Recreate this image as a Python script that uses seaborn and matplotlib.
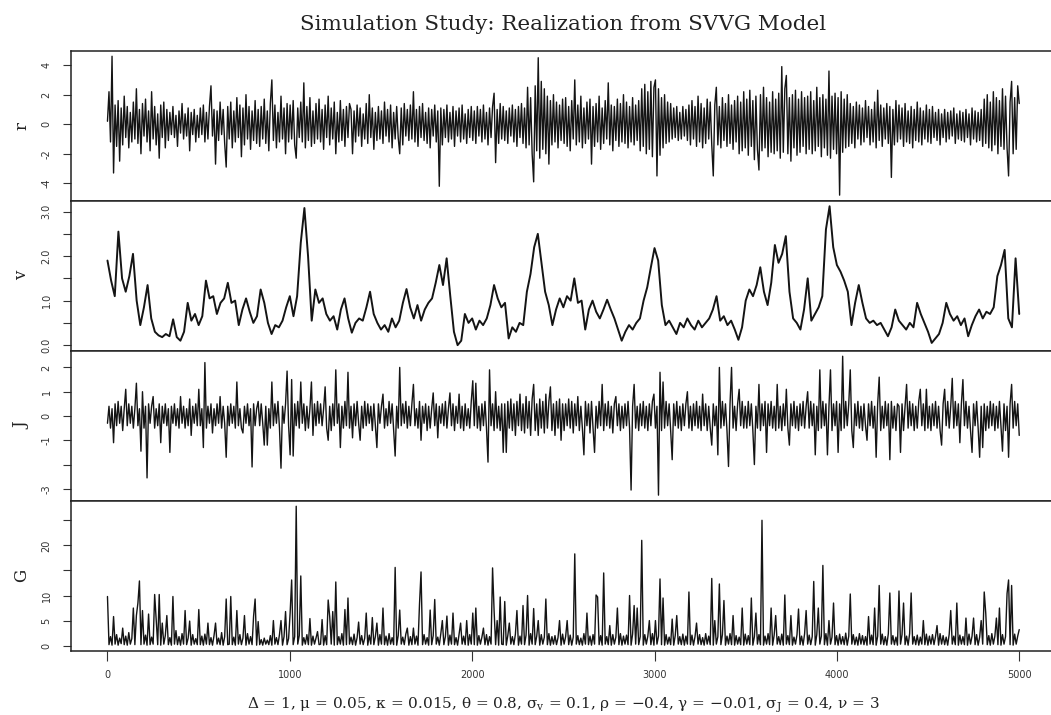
import numpy as np
import pandas as pd
import seaborn as sns
import matplotlib.pyplot as plt

# values (time index runs 0..5000 in each panel)
r_vals = [
    0.2, 2.2, -1.2, 4.6, -3.3, 1.3, -1.5, 1.6, -2.5, 1.1, -1.4, 1.9, -0.9, 1.2, -1.6, 0.8, -1.2, 1.5, -1.0, 2.4,
    -1.3, 1.0, -2.0, 1.4, -0.8, 1.7, -1.2, 0.9, -1.8, 2.2, -1.0, 1.2, -1.4, 0.7, -2.3, 1.3, -0.9, 1.5, -1.6, 1.0,
    -1.1, 0.8, -0.7, 1.2, -0.9, 0.6, -1.5, 0.9, -0.6, 1.4, -1.0, 0.7, -0.8, 1.1, -1.8, 0.8, -0.7, 1.0, -1.2, 0.6,
    -0.9, 1.1, -0.7, 1.3, -1.2, 0.8, -1.0, 1.2, 2.6, -0.8, 1.0, -2.7, 0.9, -1.1, 1.5, -0.7, 1.0, -1.3, -2.9, 1.2,
    -1.0, 1.5, -1.6, 0.9, -1.2, 1.8, -0.9, 1.3, -2.2, 1.1, -1.4, 2.0, -1.0, 1.2, -1.7, 0.9, -1.1, 1.6, -1.3, 1.0,
    -1.5, 1.2, -1.0, 1.7, -1.3, 0.9, -1.8, 1.4, 3.0, -1.1, 1.3, -1.6, 0.8, -1.2, 1.9, -1.0, 1.1, -2.0, 1.4, -1.2,
    1.3, -1.0, 1.6, -1.4, -2.3, 1.1, -0.9, 1.5, -1.2, 2.8, -1.6, 1.2, -1.1, 1.8, -1.5, 0.9, -1.3, 1.4, -1.0, 1.7,
    -1.2, 1.0, -1.7, 1.3, -0.9, 1.9, -1.4, 1.1, -1.0, 1.5, -2.0, 0.8, -1.2, 1.6, -1.1, 1.0, -1.5, 1.2, -0.9, 1.4,
    1.0, -2.0, 0.9, -1.2, 1.3, -0.8, 1.1, -1.5, 0.7, -1.0, 1.4, -1.3, 2.0, -0.9, 1.1, -1.7, 0.8, -1.1, 1.2, -1.0,
    0.9, -1.3, 1.5, -0.8, 1.0, -1.2, 1.3, -1.6, 0.8, -1.0, 1.2, -0.9, -2.0, 1.1, -1.4, 1.4, -0.8, 1.0, -1.1, 1.3,
    -1.0, 2.2, -1.2, 1.0, -1.5, 1.2, -0.9, 1.4, -1.1, 0.8, -1.3, 1.1, -1.6, 1.0, -0.8, 1.3, -1.2, 0.9, -4.2, 1.1,
    -1.4, 1.0, -0.9, 1.3, -1.2, 0.8, -1.0, 1.2, -1.5, 0.9, -0.8, 1.1, -1.2, 1.3, -1.0, 0.7, -1.3, 1.0, -0.9, 1.2,
    -1.1, 0.9, -1.3, 1.2, -0.8, 1.0, -1.2, 1.3, -1.0, 0.8, -1.4, 1.1, -0.9, 1.2, 2.1, -2.6, 1.0, -1.3, 1.4, -1.0,
    1.2, -1.1, 0.9, -1.3, 1.1, -0.8, 1.3, -1.2, 1.0, -1.5, 1.2, -0.9, 1.4, -1.3, 1.1, -1.6, 2.5, -1.4, 1.8, -2.0,
    -3.9, 2.6, -1.8, 4.5, -2.3, 2.9, -1.7, 2.4, -2.0, 1.9, -2.7, 1.6, -1.4, 2.0, -1.2, 1.5, -1.6, 1.3, -1.1, 1.7,
    -1.3, 1.8, -1.5, 1.2, -1.8, 1.6, -1.0, 3.0, -1.4, 1.3, -1.2, 1.9, -1.6, 1.1, -1.3, 1.5, -1.0, 1.7, -2.7, 1.2,
    -1.5, 1.4, -1.2, 1.9, -1.7, 1.1, -1.3, 1.6, -1.0, 2.8, -1.4, 1.3, -1.8, 1.2, -1.1, 1.7, -1.5, 1.4, -1.2, 2.0,
    -1.3, 1.5, -1.6, 1.2, -1.2, 1.8, -1.4, 1.3, -1.1, 1.6, -1.8, 2.4, -1.5, 2.7, -2.0, 2.2, -1.7, 2.9, -2.2, 2.5,
    3.0, -3.5, 2.4, -2.1, 1.8, -1.6, 2.0, -1.3, 1.5, -1.2, 1.4, -1.0, 1.1, -0.9, 1.2, -1.1, 0.8, -1.0, 1.2, -0.8,
    1.0, -1.1, 1.3, -1.4, 1.6, -1.0, 1.2, -1.5, 1.9, -1.2, 1.4, -1.6, 1.1, -1.3, 1.7, -1.0, 1.5, -1.4, -3.5, 1.3,
    2.5, -1.4, 1.2, -1.6, 1.8, -1.1, 1.4, -1.5, 2.0, -1.3, 1.3, -1.7, 1.6, -1.2, 1.9, -2.0, 1.5, -1.8, 2.2, -1.6,
    1.7, -2.1, 2.3, -1.5, 1.6, -2.4, 1.9, -1.7, -3.1, 2.0, -1.8, 2.5, -1.6, 1.8, -2.2, 1.5, -1.9, 2.2, -2.0, 1.7,
    -1.8, 2.1, -2.3, 3.9, -1.9, 2.4, 3.3, -2.0, 1.8, -2.5, 2.0, -1.6, 2.3, -2.1, 1.7, -1.9, 2.2, -1.5, 1.8, -2.0,
    1.9, -1.7, 2.2, -2.0, 1.6, -1.8, 2.5, -1.5, 1.8, -2.2, 2.0, -1.6, 1.7, -2.1, 3.6, -2.3, 1.9, -1.7, 2.1, -2.0,
    1.8, -4.8, 2.2, -1.9, 1.7, -1.6, 2.0, -1.5, 1.4, -1.3, 1.2, -1.6, 1.5, -1.0, 1.3, -1.4, 1.1, -1.2, 1.6, -0.9,
    1.2, -1.4, 1.0, -1.2, 1.5, -1.6, 2.3, -1.1, 1.3, -1.5, 1.1, -1.0, 1.4, -1.3, 1.2, -3.6, 1.0, -1.4, 1.6, -1.2,
    1.3, -1.0, 1.1, -1.5, 1.4, -1.2, 0.9, -1.3, 1.2, -1.6, 1.0, -1.1, 1.5, -1.2, 1.1, -1.4, 0.9, -1.0, 1.3, -1.2,
    1.0, -1.3, 1.2, -0.9, 0.8, -1.1, 1.0, -1.4, 0.7, -0.9, 1.0, -1.2, 0.8, -1.0, 0.9, -0.8, 1.1, -1.3, 0.7, -1.0,
    0.9, -1.1, 0.8, -1.2, 1.0, -0.9, 0.7, -1.4, 1.1, -1.0, 0.9, -1.2, 0.8, -1.1, 1.0, -1.5, 1.7, -1.3, 2.0, -1.6,
    1.5, -1.8, 2.2, -1.4, 1.8, -2.0, 1.6, -1.5, 2.4, -1.7, 1.9, -1.6, -3.5, 1.5, 2.9, -2.0, 1.8, -1.7, 2.6, 1.4,
]

v_vals = [
    1.90, 1.45, 1.10, 2.55, 1.50, 1.20, 1.55, 2.05, 1.00, 0.45,
    0.85, 1.35, 0.60, 0.30, 0.22, 0.18, 0.25, 0.20, 0.58, 0.18,
    0.10, 0.30, 0.95, 0.55, 0.70, 0.45, 0.65, 1.45, 1.05, 1.10,
    0.70, 0.95, 1.05, 1.40, 0.95, 1.00, 0.45, 0.80, 1.05, 0.75,
    0.50, 0.65, 1.25, 0.95, 0.50, 0.25, 0.45, 0.40, 0.55, 0.85,
    1.10, 0.65, 1.10, 2.30, 3.08, 2.00, 0.55, 1.25, 0.95, 1.05,
    0.70, 0.55, 0.65, 0.35, 0.80, 1.05, 0.60, 0.28, 0.50, 0.60,
    0.55, 0.85, 1.20, 0.70, 0.50, 0.35, 0.45, 0.30, 0.60, 0.40,
    0.55, 0.95, 1.26, 0.85, 0.60, 0.90, 0.55, 0.80, 0.95, 1.05,
    1.40, 1.80, 1.35, 1.95, 1.10, 0.30, 0.00, 0.10, 0.70, 0.50,
    0.60, 0.35, 0.55, 0.45, 0.60, 0.90, 1.35, 1.05, 0.85, 0.95,
    0.15, 0.40, 0.30, 0.50, 0.45, 1.20, 1.60, 2.20, 2.50, 1.85,
    1.20, 0.90, 0.45, 0.80, 1.05, 0.85, 1.10, 1.00, 1.50, 0.95,
    1.00, 0.35, 0.80, 1.00, 0.75, 0.60, 0.80, 1.02, 0.80, 0.60,
    0.35, 0.10, 0.30, 0.45, 0.35, 0.50, 0.60, 1.00, 1.30, 1.75,
    2.18, 1.90, 0.90, 0.45, 0.55, 0.40, 0.25, 0.50, 0.40, 0.60,
    0.45, 0.35, 0.55, 0.40, 0.50, 0.60, 0.80, 1.10, 0.55, 0.65,
    0.45, 0.55, 0.35, 0.12, 0.40, 1.00, 1.25, 1.10, 1.35, 1.75,
    1.20, 0.90, 1.40, 2.25, 1.85, 2.05, 2.45, 1.20, 0.60, 0.50,
    0.35, 0.80, 1.50, 0.55, 0.70, 0.85, 1.10, 2.60, 3.12, 2.20,
    1.80, 1.65, 1.45, 1.20, 0.45, 0.95, 1.35, 0.95, 0.60, 0.50,
    0.55, 0.45, 0.50, 0.35, 0.20, 0.40, 0.80, 0.55, 0.45, 0.35,
    0.50, 0.40, 0.95, 0.70, 0.50, 0.30, 0.05, 0.15, 0.25, 0.50,
    0.95, 0.70, 0.55, 0.65, 0.45, 0.60, 0.20, 0.45, 0.65, 0.80,
    0.60, 0.75, 0.70, 0.85, 1.55, 1.80, 2.14, 0.60, 0.40, 1.95,
    0.70,
]

j_vals = [
    -0.3, 0.4, -0.5, 0.3, -1.1, 0.5, -0.4, 0.6, -0.3, 0.4, -0.6, 0.3, 1.1, -0.4, 0.5, -0.3, 0.4, -0.5, 0.3, 1.35,
    -0.4, 0.3, -1.45, 1.0, -0.5, 0.4, -2.55, 0.5, -0.3, 0.4, 0.8, -0.5, 0.3, -0.4, 0.5, -1.1, 0.4, -0.3, 0.5, -0.4,
    0.3, -1.5, 0.4, -0.3, 0.5, -0.4, 0.3, -0.5, 0.8, -0.3, 0.4, -0.5, 0.3, -0.4, 0.7, -0.8, 0.4, -0.3, 0.5, -0.4,
    1.1, -0.4, 0.3, -1.3, 2.2, -0.5, 0.4, -0.3, 0.5, -0.7, 0.3, -0.4, 0.5, -0.3, 0.8, -0.5, 0.4, -0.3, -1.7, 0.4,
    -0.4, 0.5, -0.3, 0.4, -0.5, 1.4, -0.4, 0.3, -0.5, -0.7, 0.4, -0.3, 0.5, -0.4, 0.3, -2.1, 0.5, -0.4, 0.3, 0.6,
    -0.4, 0.5, -0.3, -1.2, 0.4, -1.2, 0.3, -0.5, 1.4, -0.4, 0.5, -0.3, 0.6, -0.5, -2.15, 0.4, -0.3, 0.5, 1.85, -0.4,
    -1.6, 1.5, -1.65, 0.5, -0.4, 0.6, -0.5, 1.4, -0.3, 0.5, -0.6, 0.4, -0.5, 0.3, 1.4, -0.8, 0.5, -0.4, 0.6, -0.3,
    0.5, -0.4, 0.3, 1.2, -0.5, -1.0, 0.4, -0.6, 0.5, -0.4, 1.9, -0.3, 0.5, -1.3, 0.4, -0.5, 0.6, -0.4, 1.8, -0.5,
    0.4, -0.9, 0.5, -0.4, 0.6, -0.3, -1.0, 0.4, -0.5, 0.6, -0.4, 0.5, -0.3, 0.4, -0.6, 0.5, -0.4, -1.3, 0.5, -0.3,
    0.4, 0.9, -0.5, 0.3, -0.4, 0.6, -0.3, 0.5, -0.6, -1.65, 0.4, -0.5, 2.0, -0.4, 0.5, -0.3, 0.6, -0.5, 0.4, -0.4,
    0.5, 1.3, -0.4, 0.3, -0.5, 0.6, -1.0, 0.4, -0.3, 0.5, -0.6, 0.4, -0.5, 0.3, 0.95, -0.4, 0.5, -0.9, 0.4, -0.3,
    0.5, -0.4, 0.6, -0.5, 0.3, 0.95, -0.4, 0.5, -0.6, 0.4, -0.3, 0.9, -0.5, 0.4, -0.6, 0.5, -0.4, 0.3, -0.5, 0.6,
    1.45, -0.4, 1.35, -0.5, 0.4, -0.6, 0.5, -0.4, 0.6, -0.5, -1.9, 1.9, -0.4, 0.5, -0.6, 1.0, -0.5, 0.4, -0.6, 0.5,
    -1.5, 0.5, -1.5, 0.6, -0.5, 0.7, -0.6, 0.5, -0.8, 0.6, -0.4, 0.9, -0.6, 0.5, -0.7, 0.8, -0.5, 0.6, -0.8, 0.7,
    1.3, -0.6, 0.5, -0.8, 0.7, -0.5, 0.6, -0.7, 0.9, -0.5, 0.6, 1.2, -0.6, 0.5, -0.8, 0.6, -0.5, 0.7, -1.0, 0.5,
    -0.6, 0.5, -0.4, 0.7, -0.5, 0.6, -0.7, 0.5, -0.4, 0.8, -0.6, 0.4, -0.5, -1.6, 0.6, -0.4, 0.5, -0.7, 0.6, -0.5,
    -1.5, 0.4, -0.5, 0.6, -0.4, 1.3, -0.6, 0.5, -0.4, 0.6, -0.5, 0.4, -0.7, 0.5, 0.8, -0.4, 0.5, -0.6, 0.4, -0.5,
    0.5, -0.4, 0.6, -0.5, -3.05, 0.4, 1.3, -0.5, 0.4, -0.6, 0.5, -0.4, 0.6, -0.5, 0.4, -0.6, 0.5, -0.4, 0.6, 0.9,
    -0.5, 0.4, -3.26, 1.8, -0.6, 1.4, -0.5, 0.6, -0.4, 0.5, -0.6, -1.8, 0.5, -0.4, 0.6, -0.5, 0.4, -0.6, 0.5, -0.4,
    0.5, 1.0, -0.5, 0.4, -0.6, 0.5, -0.4, 0.6, -0.5, 0.4, -0.6, 0.9, -0.4, 0.5, -0.6, 0.4, -0.5, -1.2, 0.5, -0.4,
    0.4, -1.6, 2.0, -0.5, 0.6, -0.4, 0.5, -0.6, -2.08, 0.5, 2.0, -0.5, 0.4, -0.6, 0.5, 1.1, -0.4, 0.6, -0.5, 0.4,
    -0.5, 0.6, -0.4, 0.5, -0.6, -2.0, 0.4, -0.5, 1.3, -0.6, 0.5, -0.4, 0.6, -1.5, 0.5, -0.4, 0.6, -0.5, 0.4, -0.6,
    1.3, -0.5, 0.4, -0.6, 0.5, -0.4, 1.1, -0.5, -1.2, 0.5, -0.4, 0.6, -0.5, 0.4, -0.6, 0.5, -0.4, 0.6, -0.5, 0.4,
    1.0, -0.5, 0.6, -0.4, 0.5, -1.6, 0.4, -0.6, 1.9, -0.5, 0.6, -0.4, 0.5, -1.6, 0.4, 1.9, -0.6, 0.5, -0.4, 0.6,
    -1.5, 0.5, -0.6, 2.46, -0.5, 0.6, -0.4, 0.5, 1.9, -0.6, -1.3, 0.5, -0.4, 0.6, -0.5, 0.4, -0.6, 0.5, -0.4, -1.0,
    0.5, -0.4, 0.6, -0.5, 0.4, -1.7, 0.5, 1.6, -0.6, 0.4, -0.5, 0.6, -0.4, 0.5, -1.8, 0.6, -0.5, 0.4, -0.6, 0.5,
    0.4, -1.5, 0.5, -0.6, 0.4, 1.3, -0.5, 0.6, -0.4, 0.5, -0.6, 0.4, -0.5, 0.6, 1.1, -0.4, 0.5, -0.6, 1.1, -0.5,
    0.4, -0.6, 0.5, -0.4, 0.6, -0.5, 0.4, -0.6, -1.2, 0.5, 1.1, -0.4, 0.6, -0.5, 0.4, 1.55, -0.5, 0.6, -0.4, 0.5,
    -1.1, 0.5, 1.5, -0.4, 0.6, -0.5, 0.4, -0.6, -1.5, 0.5, -0.4, 0.6, -0.5, -1.7, 0.4, -1.3, 0.5, -0.6, 0.4, -0.5,
    0.6, -0.4, 0.5, -0.6, 0.4, -0.5, 0.6, -0.4, -1.45, 0.5, -0.6, 0.4, -1.7, 0.5, 1.3, -0.5, 0.6, -0.4, 0.5, -0.8,
]

g_vals = [
    9.8, 0.2, 1.8, 0.1, 5.8, 0.3, 2.2, 0.1, 1.5, 0.4, 3.5, 0.2, 1.9, 0.1, 2.6, 0.3, 1.4, 7.5, 0.2, 6.0,
    8.5, 12.9, 0.2, 7.0, 0.3, 2.1, 0.1, 6.3, 0.2, 1.7, 0.3, 10.2, 5.1, 0.2, 10.2, 0.1, 4.5, 0.3, 2.0, 6.0,
    0.2, 1.6, 0.1, 9.8, 0.3, 3.0, 0.2, 1.8, 0.1, 2.4, 0.3, 7.0, 0.2, 1.5, 4.9, 0.1, 2.2, 0.3, 1.4, 0.2,
    7.2, 0.2, 1.9, 0.1, 2.3, 0.3, 4.5, 0.2, 1.6, 0.1, 2.0, 4.5, 0.3, 1.5, 0.2, 2.6, 0.1, 1.8, 9.3, 0.2,
    0.3, 9.8, 0.2, 1.7, 0.1, 7.0, 0.3, 2.2, 0.2, 1.5, 6.0, 0.1, 2.4, 0.3, 1.8, 0.2, 5.9, 9.3, 0.1, 4.8,
    0.2, 1.2, 0.1, 1.5, 0.3, 1.1, 0.2, 2.0, 0.1, 5.0, 0.3, 1.6, 0.2, 2.2, 5.0, 0.1, 1.8, 6.8, 0.2, 1.4,
    6.5, 13.1, 0.2, 1.8, 27.8, 0.3, 2.0, 13.9, 0.1, 1.6, 0.3, 2.2, 0.2, 5.4, 0.1, 1.9, 0.3, 1.5, 2.8, 0.2,
    0.3, 5.2, 0.1, 2.0, 0.2, 9.1, 5.8, 0.3, 6.8, 0.1, 12.7, 0.2, 1.8, 0.3, 2.4, 0.1, 7.2, 0.2, 9.5, 0.3,
    1.7, 0.2, 2.3, 0.1, 1.6, 4.7, 0.3, 2.0, 0.2, 1.5, 6.5, 0.1, 2.1, 0.3, 5.6, 0.2, 1.8, 4.5, 0.1, 2.2,
    0.3, 7.5, 0.2, 1.9, 0.1, 2.4, 0.3, 1.6, 0.2, 15.6, 0.1, 2.0, 7.1, 0.3, 1.7, 0.2, 2.3, 3.5, 0.1, 1.8,
    0.2, 3.5, 0.3, 1.9, 0.1, 8.3, 14.7, 0.2, 2.2, 0.3, 1.6, 0.1, 7.1, 0.2, 2.0, 9.2, 0.3, 1.7, 0.1, 2.4,
    5.0, 0.2, 1.8, 5.9, 0.1, 2.1, 0.3, 6.5, 0.2, 1.6, 0.1, 2.3, 4.5, 0.3, 1.9, 0.2, 5.0, 0.1, 2.2, 0.3,
    6.5, 0.2, 7.5, 0.1, 2.0, 0.3, 1.7, 3.5, 0.2, 2.2, 0.1, 1.8, 0.3, 15.5, 7.0, 0.2, 5.0, 0.1, 9.7, 0.3,
    0.2, 8.8, 0.1, 2.0, 4.5, 0.3, 1.8, 0.2, 2.3, 7.0, 0.1, 1.9, 0.3, 8.0, 0.2, 2.1, 10.0, 0.1, 2.4, 0.3,
    7.4, 0.2, 1.9, 5.0, 0.1, 2.2, 0.3, 1.7, 9.3, 0.2, 2.4, 0.1, 1.8, 0.3, 2.0, 0.2, 1.6, 5.0, 0.1, 2.3,
    0.3, 1.8, 5.0, 0.2, 2.1, 0.1, 1.7, 18.3, 0.3, 2.0, 0.2, 1.5, 0.1, 2.4, 0.3, 6.5, 0.2, 1.9, 0.1, 2.2,
    0.3, 10.1, 9.7, 0.2, 2.0, 0.1, 14.5, 0.3, 1.8, 0.2, 4.0, 0.1, 2.2, 0.3, 1.7, 7.5, 0.2, 2.4, 0.1, 1.9,
    0.3, 2.1, 0.2, 10.0, 0.1, 2.3, 8.0, 0.3, 7.5, 0.2, 1.8, 21.0, 0.1, 2.2, 0.3, 1.9, 5.0, 0.2, 2.4, 0.1,
    5.0, 0.3, 1.9, 13.3, 0.2, 9.5, 0.1, 2.2, 0.3, 1.7, 0.2, 5.3, 0.1, 2.0, 6.0, 0.3, 1.8, 0.2, 2.3, 0.1,
    1.9, 0.3, 10.7, 0.2, 2.1, 0.1, 1.8, 4.5, 0.3, 2.2, 0.2, 1.6, 0.1, 2.4, 0.3, 1.9, 0.2, 13.4, 0.1, 5.0,
    0.3, 1.8, 12.3, 0.2, 2.2, 9.0, 0.1, 1.9, 0.3, 2.4, 0.2, 6.0, 0.1, 2.0, 0.3, 1.7, 0.2, 7.5, 0.1, 2.3,
    0.3, 2.0, 0.2, 9.5, 0.1, 1.8, 6.5, 0.3, 2.2, 0.2, 25.0, 0.1, 1.9, 0.3, 2.4, 0.2, 7.5, 0.1, 2.1, 6.0,
    0.3, 1.8, 0.2, 2.3, 0.1, 10.1, 0.3, 2.0, 0.2, 6.0, 0.1, 1.7, 0.3, 2.2, 7.3, 0.2, 1.9, 0.1, 2.4, 7.0,
    0.3, 2.1, 0.2, 1.8, 12.8, 0.1, 2.2, 7.5, 0.3, 1.9, 16.0, 0.2, 2.4, 0.1, 5.0, 0.3, 1.7, 8.5, 0.2, 2.0,
    0.1, 2.3, 0.3, 1.8, 0.2, 2.5, 0.1, 1.9, 10.3, 0.3, 2.2, 0.2, 1.7, 0.1, 2.4, 0.3, 2.0, 0.2, 1.8, 0.1,
    5.8, 0.3, 2.1, 0.2, 7.5, 0.1, 1.9, 12.0, 0.3, 2.3, 0.2, 1.8, 0.1, 2.4, 10.5, 0.3, 2.0, 0.2, 1.7, 0.1,
    10.9, 0.3, 2.2, 8.5, 0.2, 1.9, 0.1, 2.4, 10.5, 0.3, 1.8, 0.2, 2.1, 0.1, 1.7, 0.3, 5.0, 0.2, 2.3, 0.1,
    1.9, 0.3, 2.2, 0.2, 1.8, 4.0, 0.1, 2.4, 0.3, 2.0, 0.2, 1.7, 0.1, 2.3, 7.0, 0.3, 1.9, 0.2, 8.5, 0.1,
    2.1, 0.3, 1.8, 0.2, 5.5, 0.1, 2.3, 0.3, 1.9, 5.5, 0.2, 2.2, 0.1, 1.7, 5.0, 0.3, 10.7, 6.5, 0.2, 2.0,
    0.1, 2.4, 0.3, 1.9, 5.5, 0.2, 7.5, 0.1, 2.2, 0.3, 1.8, 10.4, 13.1, 0.2, 12.0, 0.1, 2.3, 0.3, 1.9, 3.2,
]

panel_names = ["r", "v", "J", "G"]
panel_vals = [r_vals, v_vals, j_vals, g_vals]
ytick_pos = [
    [-4, -2, 0, 2, 4],
    [0, 0.5, 1, 1.5, 2, 2.5, 3],
    [-3, -2, -1, 0, 1, 2],
    [0, 5, 10, 15, 20, 25],
]
ytick_txt = [
    ["-4", "-2", "0", "2", "4"],
    ["0.0", "", "1.0", "", "2.0", "", "3.0"],
    ["-3", "", "-1", "0", "1", "2"],
    ["0", "5", "10", "", "20", ""],
]
x_ticks = [0, 1000, 2000, 3000, 4000, 5000]

title = "Simulation Study: Realization from SVVG Model"
footer = ("Δ = 1, μ = 0.05, κ = 0.015, θ = 0.8, σ$_{v}$ = 0.1, ρ = −0.4, "
          "γ = −0.01, σ$_{J}$ = 0.4, ν = 3")

sns.set_theme(style="ticks")
plt.rcParams["font.family"] = ["DejaVu Sans"]
plt.rcParams["mathtext.fontset"] = "dejavuserif"
plt.rcParams["mathtext.default"] = "regular"

W, H = 1051, 715
fig = plt.figure(figsize=(W / 100, H / 100), dpi=100)
left, width, top0, ph = 71, 984.7, 50.7, 150

for i, (name, vals) in enumerate(zip(panel_names, panel_vals)):
    df = pd.DataFrame({"t": np.linspace(0, 5000, len(vals)), "val": vals})
    top = top0 + ph * i
    ax = fig.add_axes([left / W, 1 - (top + ph) / H, width / W, ph / H])
    sns.lineplot(data=df, x="t", y="val", ax=ax, color="#141414",
                 linewidth=1.4 if name == "v" else 1.0, estimator=None, sort=False)

    lo, hi = min(vals), max(vals)
    pad = 0.04 * (hi - lo)
    ax.set_ylim(lo - pad, hi + pad)
    ax.set_xlim(-200, 5200)

    ax.set_yticks(ytick_pos[i])
    ax.set_yticklabels(ytick_txt[i], rotation=90, va="center")
    ax.tick_params(axis="y", direction="out", length=6, width=0.8,
                   labelsize=7, pad=8, colors="#333333")
    ax.set_xticks(x_ticks)
    ax.tick_params(axis="x", direction="out", length=7, width=0.8,
                   labelsize=7, pad=7, colors="#333333",
                   bottom=(i == 3), labelbottom=(i == 3))

    ax.set_xlabel("")
    ax.set_ylabel(name, family="DejaVu Serif", fontsize=12, rotation=90,
                  va="center", color="#222222")
    ax.yaxis.set_label_coords(-0.05, 0.5)
    for sp in ax.spines.values():
        sp.set_linewidth(1.1)
        sp.set_color("#222222")

cx = (left + width / 2) / W
fig.text(cx, 1 - 30 / H, title, ha="center", va="baseline",
         family="DejaVu Serif", fontsize=15.4, color="#222222")
fig.text(cx, 1 - 709 / H, footer, ha="center", va="baseline",
         family="DejaVu Serif", fontsize=11, color="#222222")

fig.savefig("out.png", dpi=100)
